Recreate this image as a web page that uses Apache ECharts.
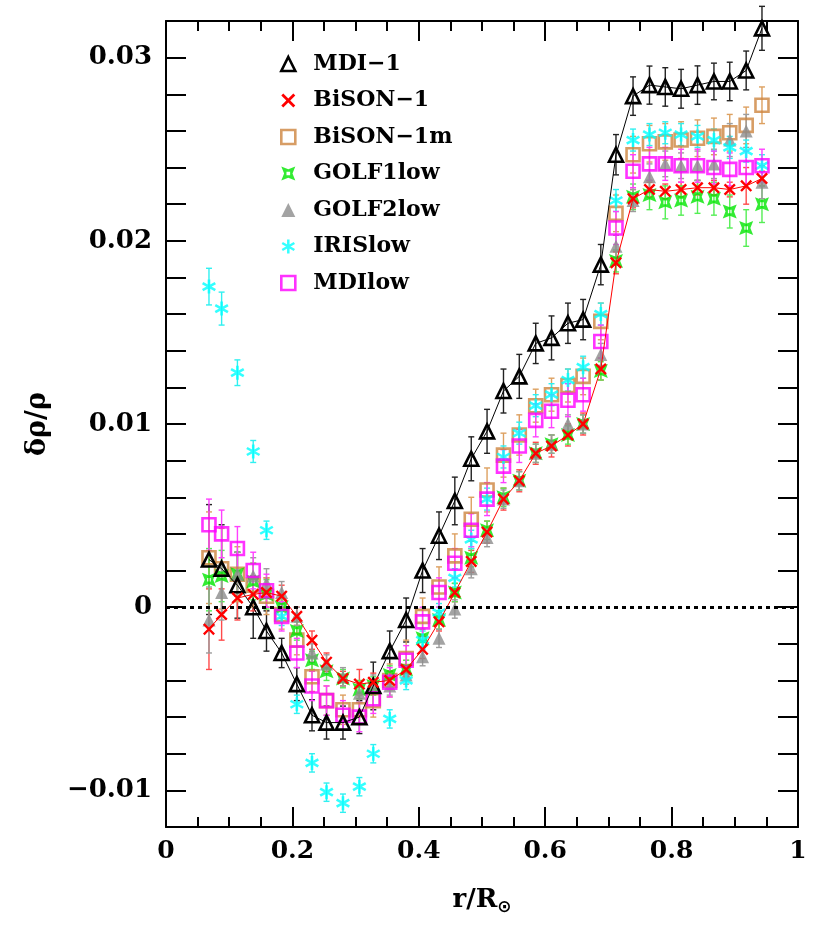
<!DOCTYPE html>
<html>
<head>
<meta charset="utf-8">
<script src="https://cdn.jsdelivr.net/npm/echarts@6/dist/echarts.min.js"></script>
<style>
html, body { margin: 0; padding: 0; background: #fff; }
#content { width: 830px; height: 942px; }
</style>
</head>
<body>
<div id="content"></div>
<script>
// radii r/Rsun shared by all data sets
var radius = [0.068, 0.088, 0.113, 0.138, 0.159, 0.183, 0.207, 0.231, 0.254, 0.280,
              0.306, 0.328, 0.354, 0.380, 0.406, 0.432, 0.457, 0.483, 0.508, 0.534,
              0.559, 0.585, 0.610, 0.636, 0.660, 0.688, 0.712, 0.739, 0.765, 0.790,
              0.815, 0.841, 0.867, 0.892, 0.918, 0.943];

var mdi1 = [0.0026, 0.0021, 0.0012, 0.0000, -0.0013, -0.0025, -0.0042, -0.0059, -0.0063, -0.0063,
            -0.0060, -0.0043, -0.0024, -0.0007, 0.0020, 0.0039, 0.0058, 0.0081, 0.0096, 0.0118,
            0.0126, 0.0144, 0.0147, 0.0155, 0.0157, 0.0187, 0.0247, 0.0279, 0.0285, 0.0284,
            0.0283, 0.0285, 0.0287, 0.0287, 0.0293, 0.0316];
var mdi1Err = [0.0030, 0.0024, 0.0018, 0.0017, 0.0011, 0.0008, 0.0009, 0.00085, 0.0009, 0.0009,
               0.0009, 0.0013, 0.0011, 0.0012, 0.0012, 0.0013, 0.0013, 0.0012, 0.0012, 0.0012,
               0.0012, 0.0011, 0.0012, 0.0011, 0.0011, 0.0011, 0.0011, 0.00105, 0.00104, 0.00105,
               0.00106, 0.00105, 0.0010, 0.00105, 0.00106, 0.0012];

var bison1 = [-0.0012, -0.0004, 0.0005, 0.0007, 0.0008, 0.0006, -0.0005, -0.0018, -0.0030, -0.0039,
              -0.0042, -0.0041, -0.0040, -0.0034, -0.0023, -0.0008, 0.0008, 0.0025, 0.0041, 0.0059,
              0.0069, 0.0084, 0.0088, 0.0094, 0.0100, 0.0130, 0.0188, 0.0223, 0.0228, 0.0227,
              0.0228, 0.0229, 0.0229, 0.0228, 0.0230, 0.0234];
var bison1Err = [0.0022, 0.0014, 0.0012, 0.0009, 0.0008, 0.0006, 0.0005, 0.0005, 0.0005, 0.0004,
                 0.0008, 0.0005, 0.0005, 0.0005, 0.0005, 0.0005, 0.0005, 0.0006, 0.0006, 0.0006,
                 0.0006, 0.0006, 0.0006, 0.0006, 0.0006, 0.0006, 0.0006, 0.0005, 0.0004, 0.0004,
                 0.0004, 0.0004, 0.0004, 0.0004, 0.0010, 0.0004];

var bison1m = [0.0027, 0.0021, 0.0018, 0.0012, 0.0006, -0.0004, -0.0018, -0.0038, -0.0051, -0.0056,
               -0.0056, -0.0051, -0.0040, -0.0028, -0.0005, 0.0011, 0.0028, 0.0048, 0.0064, 0.0083,
               0.0094, 0.0110, 0.0116, 0.0121, 0.0126, 0.0156, 0.0215, 0.0247, 0.0253, 0.0254,
               0.0255, 0.0256, 0.0257, 0.0259, 0.0263, 0.0274];
var bison1mErr = [0.0025, 0.0022, 0.0015, 0.0012, 0.0010, 0.0008, 0.0008, 0.0008, 0.0008, 0.0008,
                  0.0008, 0.0009, 0.0009, 0.0010, 0.0010, 0.0011, 0.0012, 0.0012, 0.0012, 0.0012,
                  0.0011, 0.0009, 0.0009, 0.0009, 0.0010, 0.0010, 0.0010, 0.0010, 0.0010, 0.0010,
                  0.0010, 0.0010, 0.0010, 0.0010, 0.0010, 0.0010];

var golf1 = [0.0015, 0.0017, 0.0018, 0.0014, 0.0007, 0.0000, -0.0013, -0.0029, -0.0035, -0.0039,
             -0.0045, -0.0043, -0.0037, -0.0034, -0.0017, -0.0007, 0.0008, 0.0027, 0.0042, 0.0060,
             0.0069, 0.0084, 0.0089, 0.0094, 0.0100, 0.0129, 0.0189, 0.0224, 0.0225, 0.0221,
             0.0222, 0.0224, 0.0223, 0.0216, 0.0207, 0.0220];
var golf1Err = [0.0017, 0.0014, 0.0012, 0.0010, 0.0008, 0.0006, 0.0005, 0.0005, 0.0005, 0.0005,
                0.0005, 0.0005, 0.0005, 0.0005, 0.0005, 0.0005, 0.0005, 0.0005, 0.0005, 0.0005,
                0.0005, 0.0005, 0.0005, 0.0005, 0.0005, 0.0005, 0.0006, 0.0007, 0.0008, 0.0009,
                0.0008, 0.0009, 0.0009, 0.0009, 0.0010, 0.0010];

var golf2 = [-0.0007, 0.0008, 0.0018, 0.0017, 0.0013, 0.0008, -0.0005, -0.0025, -0.0031, -0.0038,
             -0.0047, -0.0042, -0.0043, -0.0037, -0.0027, -0.0017, -0.0001, 0.0021, 0.0038, 0.0059,
             0.0069, 0.0084, 0.0089, 0.0100, 0.0100, 0.0138, 0.0197, 0.0222, 0.0235, 0.0242,
             0.0241, 0.0241, 0.0242, 0.0255, 0.0260, 0.0232];
var golf2Err = [0.0018, 0.0015, 0.0012, 0.0010, 0.0008, 0.0006, 0.0005, 0.0005, 0.0005, 0.0005,
                0.0005, 0.0005, 0.0005, 0.0005, 0.0005, 0.0005, 0.0005, 0.0005, 0.0005, 0.0005,
                0.0005, 0.0005, 0.0005, 0.0005, 0.0005, 0.0006, 0.0006, 0.0006, 0.0007, 0.0007,
                0.0007, 0.0008, 0.0008, 0.0009, 0.0009, 0.0009];

var iris = [0.0175, 0.0163, 0.0128, 0.0085, 0.0042, -0.0005, -0.0053, -0.0085, -0.0101, -0.0107,
            -0.0098, -0.0080, -0.0061, -0.0040, -0.0018, -0.0003, 0.0016, 0.0037, 0.0059, 0.0082,
            0.0095, 0.0110, 0.0116, 0.0124, 0.0131, 0.0160, 0.0222, 0.0255, 0.0258, 0.0259,
            0.0258, 0.0257, 0.0255, 0.0251, 0.0249, 0.0241];
var irisErr = [0.0010, 0.0009, 0.0007, 0.0006, 0.0005, 0.0005, 0.0005, 0.0005, 0.0005, 0.0005,
               0.0005, 0.0005, 0.0005, 0.0005, 0.0005, 0.0005, 0.0005, 0.0005, 0.0006, 0.0006,
               0.0006, 0.0006, 0.0006, 0.0006, 0.0006, 0.0006, 0.0006, 0.0006, 0.0006, 0.0006,
               0.0006, 0.0006, 0.0006, 0.0006, 0.0006, 0.0006];

var mdiLow = [0.0045, 0.0040, 0.0032, 0.0020, 0.0009, -0.0005, -0.0025, -0.0043, -0.0051, -0.0059,
              -0.0060, -0.0050, -0.0041, -0.0029, -0.0008, 0.0008, 0.0024, 0.0042, 0.0059, 0.0077,
              0.0088, 0.0102, 0.0107, 0.0113, 0.0116, 0.0145, 0.0207, 0.0238, 0.0242, 0.0242,
              0.0241, 0.0241, 0.0240, 0.0239, 0.0240, 0.0241];
var mdiLowErr = [0.0014, 0.0013, 0.0012, 0.0010, 0.0009, 0.0008, 0.0008, 0.0008, 0.0008, 0.0008,
                 0.0008, 0.0008, 0.0008, 0.0008, 0.0008, 0.0008, 0.0008, 0.0009, 0.0009, 0.0009,
                 0.0009, 0.0009, 0.0009, 0.0009, 0.0009, 0.0009, 0.0009, 0.0009, 0.0009, 0.0009,
                 0.0009, 0.0009, 0.0009, 0.0009, 0.0009, 0.0009];

var xTicks = [0, 0.2, 0.4, 0.6, 0.8, 1];
var yTickLabels = [-0.01, 0, 0.01, 0.02, 0.03];

var FONT = 'DejaVu Serif';

// symbols
var crossPath = 'path://M0,1.4 L1.4,0 L5,3.6 L8.6,0 L10,1.4 L6.4,5 L10,8.6 L8.6,10 L5,6.4 L1.4,10 L0,8.6 L3.6,5 Z';
var starPath = 'path://M0,0 L5,2 L10,0 L8,5 L10,10 L5,8 L0,10 L2,5 Z M3.7,3.7 L3.7,6.3 L6.3,6.3 L6.3,3.7 Z';
var asteriskPath = 'path://M4.1,0 L5.9,0 L5.9,10 L4.1,10 Z M1.12,1.72 L9.78,6.72 L8.88,8.28 L0.22,3.28 Z M0.22,6.72 L8.88,1.72 L9.78,3.28 L1.12,8.28 Z';

function pts(ys) {
    return radius.map(function (x, i) { return [x, ys[i]]; });
}
function errPts(ys, es) {
    return radius.map(function (x, i) { return [x, ys[i], es[i]]; });
}

function errRender(color) {
    return function (params, api) {
        var x = api.value(0), y = api.value(1), e = api.value(2);
        var hi = api.coord([x, y + e]);
        var lo = api.coord([x, y - e]);
        var w = 3;
        var st = {stroke: color, lineWidth: 1.4, fill: null};
        return {
            type: 'group',
            children: [
                {type: 'line', shape: {x1: hi[0], y1: hi[1], x2: lo[0], y2: lo[1]}, style: st},
                {type: 'line', shape: {x1: hi[0] - w, y1: hi[1], x2: hi[0] + w, y2: hi[1]}, style: st},
                {type: 'line', shape: {x1: lo[0] - w, y1: lo[1], x2: lo[0] + w, y2: lo[1]}, style: st}
            ]
        };
    };
}

function errSeries(name, ys, es, color, extra) {
    var s = {
        name: name,
        type: 'custom',
        renderItem: errRender(color),
        data: errPts(ys, es),
        encode: {x: 0, y: 1},
        silent: true
    };
    if (extra) {
        for (var k in extra) s[k] = extra[k];
    }
    return s;
}

var sets = [
    {name: 'MDI\u22121', ys: mdi1, es: mdi1Err, type: 'line', symbol: 'triangle', size: 14,
     color: '#000000', bar: '#222222', hollow: true, lineColor: '#000000'},
    {name: 'BiSON\u22121', ys: bison1, es: bison1Err, type: 'line', symbol: crossPath, size: 12,
     color: '#ff0000', bar: '#ff4a4a', hollow: false, lineColor: '#ff0000'},
    {name: 'BiSON\u22121m', ys: bison1m, es: bison1mErr, type: 'scatter', symbol: 'rect', size: 13,
     color: '#cd853f', bar: '#dda060', hollow: true},
    {name: 'GOLF1low', ys: golf1, es: golf1Err, type: 'scatter', symbol: starPath, size: 14,
     color: '#00e600', bar: '#55ee55', hollow: false},
    {name: 'GOLF2low', ys: golf2, es: golf2Err, type: 'scatter', symbol: 'triangle', size: 13,
     color: '#8c8c8c', bar: '#9c9c9c', hollow: false},
    {name: 'IRISlow', ys: iris, es: irisErr, type: 'scatter', symbol: asteriskPath, size: 14,
     color: '#00ffff', bar: '#30f0f0', hollow: false},
    {name: 'MDIlow', ys: mdiLow, es: mdiLowErr, type: 'scatter', symbol: 'rect', size: 13,
     color: '#ff00ff', bar: '#ff40ff', hollow: true}
];

var series = [];
var legendData = [];
sets.forEach(function (d, idx) {
    var extra = null;
    if (idx === 0) {
        extra = {
            markLine: {
                silent: true,
                symbol: 'none',
                label: {show: false},
                lineStyle: {color: '#000', width: 3, type: [4, 4]},
                data: [{yAxis: 0}]
            }
        };
    }
    series.push(errSeries(d.name + ' err', d.ys, d.es, d.bar, extra));
    var itemStyle = d.hollow
        ? {color: 'rgba(0,0,0,0)', borderColor: d.color, borderWidth: 2.6}
        : {color: d.color, borderWidth: 0};
    var s = {
        name: d.name,
        type: d.type,
        data: pts(d.ys),
        symbol: d.symbol,
        symbolSize: d.size,
        itemStyle: itemStyle,
        silent: true
    };
    if (d.type === 'line') {
        s.lineStyle = {color: d.lineColor, width: 1};
        s.showAllSymbol = true;
    }
    series.push(s);
    legendData.push({name: d.name, icon: d.symbol, itemStyle: itemStyle});
});

var myChart = echarts.init(document.getElementById('content'));

var option = {
    animation: false,
    backgroundColor: '#ffffff',
    grid: {left: 166, right: 32, top: 21, bottom: 115, containLabel: false},
    legend: {
        orient: 'vertical',
        left: 275,
        top: 48,
        itemWidth: 14,
        itemHeight: 14,
        itemGap: 14.5,
        selectedMode: false,
        data: legendData,
        textStyle: {
            fontFamily: FONT, fontWeight: 'bold', fontSize: 22, lineHeight: 22,
            color: '#000', padding: [0, 0, 0, 13]
        }
    },
    xAxis: [
        {
            type: 'value', position: 'bottom', min: 0, max: 1, interval: 0.2,
            name: 'r/R{s|\u2299}',
            nameLocation: 'middle',
            nameGap: 58,
            nameTextStyle: {
                fontFamily: FONT, fontWeight: 'bold', fontSize: 26, color: '#000',
                rich: {s: {fontFamily: 'DejaVu Sans', fontSize: 17, verticalAlign: 'bottom', padding: [14, 0, 0, 0], color: '#000'}}
            },
            splitLine: {show: false},
            axisLine: {show: true, onZero: false, lineStyle: {color: '#000', width: 2}},
            axisTick: {show: true, inside: true, length: 20, lineStyle: {color: '#000', width: 2}},
            minorTick: {show: true, splitNumber: 4, length: 10, lineStyle: {color: '#000', width: 2}},
            axisLabel: {
                margin: 12, fontFamily: FONT, fontWeight: 'bold', fontSize: 25, color: '#000',
                formatter: function (v) {
                    for (var i = 0; i < xTicks.length; i++) {
                        if (Math.abs(v - xTicks[i]) < 1e-9) return String(xTicks[i]);
                    }
                    return '';
                }
            }
        },
        {
            type: 'value', position: 'top', min: 0, max: 1, interval: 0.2,
            splitLine: {show: false},
            axisLine: {show: true, onZero: false, lineStyle: {color: '#000', width: 2}},
            axisTick: {show: true, inside: true, length: 20, lineStyle: {color: '#000', width: 2}},
            minorTick: {show: true, splitNumber: 4, length: 10, lineStyle: {color: '#000', width: 2}},
            axisLabel: {show: false}
        }
    ],
    yAxis: [
        {
            type: 'value', position: 'left', min: -0.012, max: 0.032, interval: 0.002,
            name: '\u03b4\u03c1/\u03c1',
            nameLocation: 'middle',
            nameGap: 115,
            nameRotate: 90,
            nameTextStyle: {fontFamily: FONT, fontWeight: 'bold', fontSize: 27, color: '#000'},
            splitLine: {show: false},
            axisLine: {show: true, onZero: false, lineStyle: {color: '#000', width: 2}},
            axisTick: {show: true, inside: true, length: 20, lineStyle: {color: '#000', width: 2}},
            axisLabel: {
                margin: 14, fontFamily: FONT, fontWeight: 'bold', fontSize: 26, color: '#000',
                formatter: function (v) {
                    for (var i = 0; i < yTickLabels.length; i++) {
                        var t = yTickLabels[i];
                        if (Math.abs(v - t) < 1e-9) {
                            if (t === 0) return '0';
                            return (t < 0 ? '\u2212' : '') + Math.abs(t).toFixed(2);
                        }
                    }
                    return '';
                }
            }
        },
        {
            type: 'value', position: 'right', min: -0.012, max: 0.032, interval: 0.002,
            splitLine: {show: false},
            axisLine: {show: true, onZero: false, lineStyle: {color: '#000', width: 2}},
            axisTick: {show: true, inside: true, length: 20, lineStyle: {color: '#000', width: 2}},
            axisLabel: {show: false}
        }
    ],
    series: series
};
myChart.setOption(option);
</script>
</body>
</html>
